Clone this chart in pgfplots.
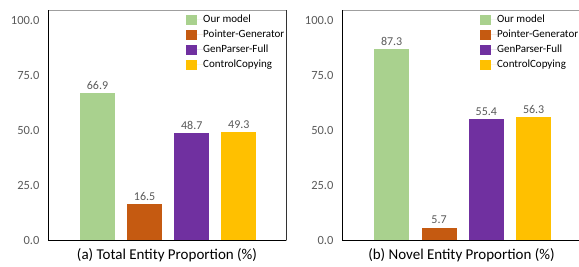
\documentclass[border=0pt]{standalone}
\usepackage{pgfplots}
\pgfplotsset{compat=1.18}
\usepackage{fontspec}
\setmainfont{Carlito}
\definecolor{cgreen}{HTML}{A9D18E}
\definecolor{corange}{HTML}{C55A11}
\definecolor{cpurple}{HTML}{7030A0}
\definecolor{cyellow}{HTML}{FFC000}
\definecolor{tgray}{HTML}{595959}
\pgfplotsset{
  mybar/.style={
    scale only axis, width=238pt, height=230pt,
    anchor=south west,
    xmin=-1.05, xmax=4, ymin=0, ymax=105,
    ybar, bar width=35pt, bar shift=0pt,
    xtick=\empty,
    ytick={0,25,50,75,100},
    major tick length=0pt,
    axis line style={draw=gray!75, line width=0.8pt},
    /pgf/number format/assume math mode=true,
    y tick label style={font=\fontsize{12.5}{14}\selectfont, text=tgray, xshift=-5pt,
      /pgf/number format/.cd, fixed, fixed zerofill, precision=1},
    nodes near coords,
    nodes near coords style={font=\fontsize{12}{14}\selectfont, text=tgray,
      /pgf/number format/.cd, fixed, fixed zerofill, precision=1, assume math mode=true},
    xlabel style={font=\fontsize{15}{17}\selectfont, at={(axis description cs:0.5,0)}, anchor=north, yshift=-7pt, inner sep=1pt},
    legend style={draw=none, fill=none, inner sep=0pt, anchor=north west,
      font=\fontsize{11}{13}\selectfont,
      nodes={inner ysep=2.5pt, text height=8pt, text depth=2pt, inner xsep=0pt}},
    legend cell align=left,
    legend image code/.code={\fill[##1] (0pt,-5pt) rectangle (11pt,5pt); \path (0pt,0pt) -- (17pt,0pt);},
    clip=false,
  }
}
\begin{document}
\begin{tikzpicture}[x=1pt,y=1pt]
\begin{axis}[mybar, at={(48pt,26pt)},
  xlabel={(a) Total Entity Proportion (\%)},
  legend style={at={(axis description cs:0.58,0.99)}}]
\addplot[fill=cgreen, draw=none] coordinates {(0,66.9)};
\addplot[fill=corange, draw=none] coordinates {(1,16.5)};
\addplot[fill=cpurple, draw=none] coordinates {(2,48.7)};
\addplot[fill=cyellow, draw=none] coordinates {(3,49.3)};
\legend{Our model, Pointer-Generator, GenParser-Full, ControlCopying}
\draw[black, line width=0.9pt] (rel axis cs:0,1) -- (rel axis cs:0,0) -- (rel axis cs:1,0);
\draw[black!80, line width=0.8pt] (rel axis cs:1,0) -- (rel axis cs:1,1);
\end{axis}
\begin{axis}[mybar, at={(342pt,26pt)}, width=239pt,
  xlabel={(b) Novel Entity Proportion (\%)},
  legend style={at={(axis description cs:0.577,0.99)}}]
\addplot[fill=cgreen, draw=none] coordinates {(0,87.3)};
\addplot[fill=corange, draw=none] coordinates {(1,5.7)};
\addplot[fill=cpurple, draw=none] coordinates {(2,55.4)};
\addplot[fill=cyellow, draw=none] coordinates {(3,56.3)};
\legend{Our model, Pointer-Generator, GenParser-Full, ControlCopying}
\draw[black, line width=0.9pt] (rel axis cs:0,1) -- (rel axis cs:0,0) -- (rel axis cs:1,0);
\end{axis}
\pgfresetboundingbox
\path (0pt,0pt) rectangle (579pt,266pt);
\end{tikzpicture}
\end{document}
